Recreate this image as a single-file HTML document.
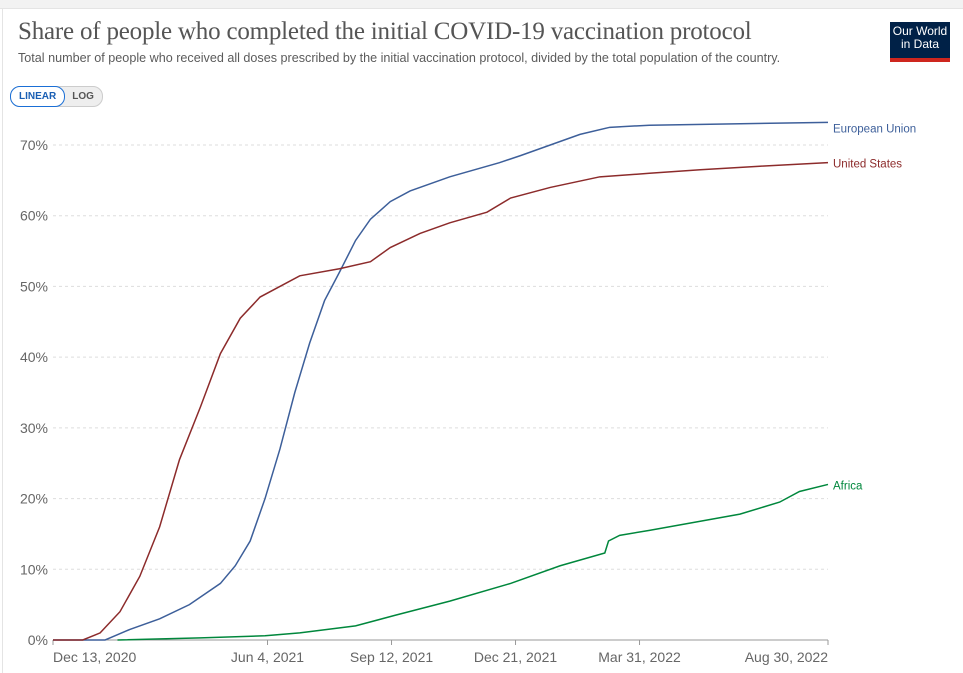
<!DOCTYPE html>
<html><head><meta charset="utf-8"><style>
body{margin:0;width:963px;height:673px;background:#fff;overflow:hidden;font-family:"Liberation Sans",sans-serif;position:relative}
.topbar{position:absolute;left:0;top:0;width:963px;height:8px;background:#f2f2f2;border-bottom:1px solid #e4e4e4}
.leftb{position:absolute;left:2px;top:9px;width:1px;height:664px;background:#e4e4e4}
h1{position:absolute;left:18px;top:18px;margin:0;font-family:"Liberation Serif",serif;font-weight:normal;font-size:25px;color:#555;letter-spacing:-0.2px}
.sub{position:absolute;left:18px;top:51px;font-size:12.6px;color:#5b5b5b}
.logo{position:absolute;left:890px;top:22px;width:60px;height:36px;background:#002147;color:#fff;font-size:12px;line-height:13px;text-align:center;padding-top:3px;box-sizing:border-box}
.logo:after{content:"";position:absolute;left:0;bottom:-4px;width:60px;height:4px;background:#ce261e}
.tog{position:absolute;left:10px;top:86px;height:19px;border:1px solid #ccc;border-radius:10px;background:#eee;font-size:10px;font-weight:bold;display:flex}
.tog span{padding:0 8px;line-height:19px;color:#555}
.tog .on{background:#fff;border:1px solid #1a6fd6;border-radius:10px;color:#1a5fb4;margin:-1px}
</style></head><body>
<div class="topbar"></div>
<div class="leftb"></div>
<h1>Share of people who completed the initial COVID-19 vaccination protocol</h1>
<div class="sub">Total number of people who received all doses prescribed by the initial vaccination protocol, divided by the total population of the country.</div>
<div class="logo">Our World<br>in Data</div>
<div class="tog"><span class="on">LINEAR</span><span>LOG</span></div>
<svg id="chart" width="963" height="673" style="position:absolute;left:0;top:0"></svg>
<script>
const yTicks=[0,10,20,30,40,50,60,70];
const xTickDays=[0,173,273,373,473,625];
const xTickLabels=["Dec 13, 2020","Jun 4, 2021","Sep 12, 2021","Dec 21, 2021","Mar 31, 2022","Aug 30, 2022"];
const seriesNames=["European Union","United States","Africa"];
const labelOffsets=[5,0,0];
const euDays=[0,42,62,86,110,135,147,159,171,183,195,207,219,231,244,256,272,288,320,360,377,401,425,449,481,625];
const euVals=[0,0,1.5,3,5,8,10.5,14,20,27,35,42,48,52,56.5,59.5,62,63.5,65.5,67.5,68.5,70,71.5,72.5,72.8,73.2];
const usDays=[0,24,38,54,70,86,102,119,135,151,167,183,199,231,256,272,296,320,350,369,401,441,481,522,570,625];
const usVals=[0,0,1,4,9,16,25.5,33,40.5,45.5,48.5,50,51.5,52.5,53.5,55.5,57.5,59,60.5,62.5,64,65.5,66,66.5,67,67.5];
const afDays=[52,119,171,199,244,276,320,369,409,445,448,457,481,522,554,586,602,625];
const afVals=[0,0.3,0.6,1,2,3.5,5.5,8,10.5,12.3,14,14.8,15.5,16.8,17.8,19.5,21,22];
const colors=["#3d5f9a","#8c2b2b","#00873c"];
const NS="http://www.w3.org/2000/svg";
const svg=document.getElementById('chart');
const x=d=>53+d*775/625;
const y=v=>640-v*495/70;
function mk(t,a){const e=document.createElementNS(NS,t);for(const k in a)e.setAttribute(k,a[k]);svg.appendChild(e);return e;}
yTicks.forEach(v=>{
  if(v>0){const l=mk('line',{x1:53,x2:828,y1:y(v),y2:y(v),stroke:'#ddd','stroke-dasharray':'3,3'});
  
  }
  const t=mk('text',{x:48,y:y(v)+5,'text-anchor':'end','font-size':'14','fill':'#666','font-family':'Liberation Sans'});
  t.textContent=v+'%';
  
  
});
const ax=mk('line',{x1:53,x2:828,y1:640,y2:640,stroke:'#999'});


xTickDays.forEach((d,i)=>{
  const tk=mk('line',{x1:x(d),x2:x(d),y1:640,y2:645,stroke:'#999'});
  
  
  const anchor=i==0?'start':(i==xTickDays.length-1?'end':'middle');
  const t=mk('text',{x:x(d),y:662,'text-anchor':anchor,'font-size':'14','fill':'#666','font-family':'Liberation Sans'});
  t.textContent=xTickLabels[i];
  
  
});
[[euDays,euVals],[usDays,usVals],[afDays,afVals]].forEach((s,i)=>{
  const pts=s[0].map((d,j)=>x(d)+','+y(s[1][j])).join(' ');
  const p=mk('polyline',{points:pts,fill:'none',stroke:colors[i],'stroke-width':1.5});
  
  
  const last=s[1][s[1].length-1];
  const t=mk('text',{x:833,y:y(last)+5+labelOffsets[i],'font-size':'11.5','fill':colors[i],'font-family':'Liberation Sans'});
  t.textContent=seriesNames[i];
  
  
});
</script>
</body></html>
